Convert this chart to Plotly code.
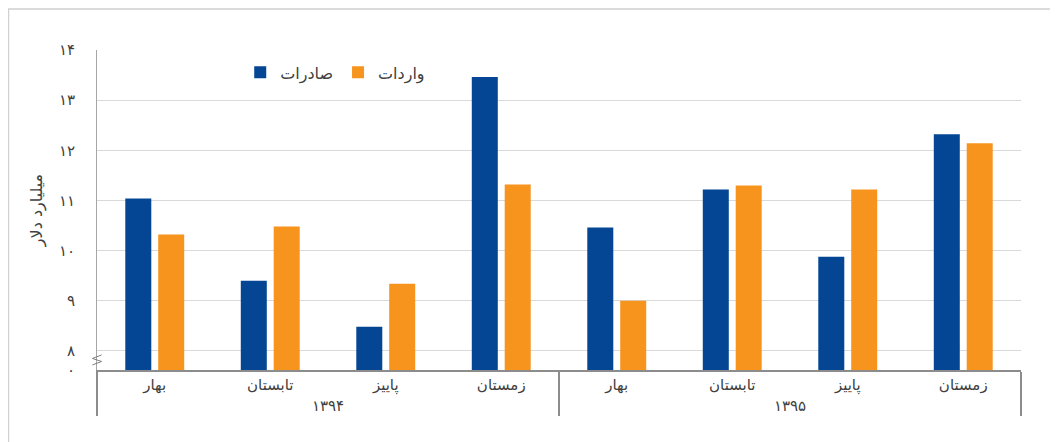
import plotly.graph_objects as go

years = ["۱۳۹۴"] * 4 + ["۱۳۹۵"] * 4
seasons = ["بهار", "تابستان", "پاییز", "زمستان"] * 2
exports = [11.04, 9.4, 8.48, 13.46, 10.46, 11.22, 9.88, 12.32]
imports = [10.32, 10.48, 9.34, 11.32, 9.0, 11.3, 11.22, 12.14]

y_min = 7.62
tick_vals = [y_min, 8, 9, 10, 11, 12, 13, 14]
tick_text = ["۰", "۸", "۹", "۱۰", "۱۱", "۱۲", "۱۳", "۱۴"]

font_family = "DejaVu Sans"
text_color = "#404040"

fig = go.Figure()

fig.add_trace(go.Bar(
    x=[years, seasons],
    y=exports,
    name="صادرات",
    marker_color="#044694",
    marker_line_width=0
))

fig.add_trace(go.Bar(
    x=[years, seasons],
    y=imports,
    name="واردات",
    marker_color="#F7941E",
    marker_line_width=0
))

# page body has an 8px margin, so the figure is sized to fit inside it
fig.update_layout(
    width=1050,
    height=434,
    barmode="group",
    bargap=0.43,
    bargroupgap=0.21,
    plot_bgcolor="white",
    paper_bgcolor="white",
    font=dict(family=font_family, size=15, color=text_color),
    margin=dict(t=42, b=72, l=89, r=37, autoexpand=False),
    legend=dict(
        orientation="h",
        x=0.155, y=0.93,
        xanchor="left", yanchor="middle",
        font=dict(size=16),
        bgcolor="rgba(0,0,0,0)",
        itemwidth=30,
    ),
    shapes=[
        # outer frame (top and left edges visible)
        dict(type="rect", xref="paper", yref="paper",
             x0=-0.0958, x1=1.2, y0=-0.5, y1=1.128,
             line=dict(color="#d0d0d0", width=1.5), layer="below"),
        # axis break mark
        dict(type="path", xref="paper", yref="y",
             path="M -0.005,7.72 L 0.005,7.79 L -0.005,7.85 L 0.005,7.92",
             line=dict(color="#808080", width=1)),
    ]
)

fig.update_xaxes(
    showline=True,
    linecolor="#8c8c8c",
    linewidth=2,
    showgrid=False,
    ticks="",
    showdividers=True,
    dividercolor="#8c8c8c",
    dividerwidth=1.5,
    tickfont=dict(size=15, color=text_color),
)

fig.update_yaxes(
    range=[y_min, 14],
    tickvals=tick_vals,
    ticktext=tick_text,
    showline=True,
    linecolor="#a6a6a6",
    linewidth=1,
    gridcolor="#d9d9d9",
    gridwidth=1,
    zeroline=False,
    ticks="",
    ticklabelstandoff=18,
    tickfont=dict(size=15, color=text_color),
    title=dict(text="میلیارد دلار", font=dict(size=16, color=text_color), standoff=12),
)

fig.write_html("out.html")
